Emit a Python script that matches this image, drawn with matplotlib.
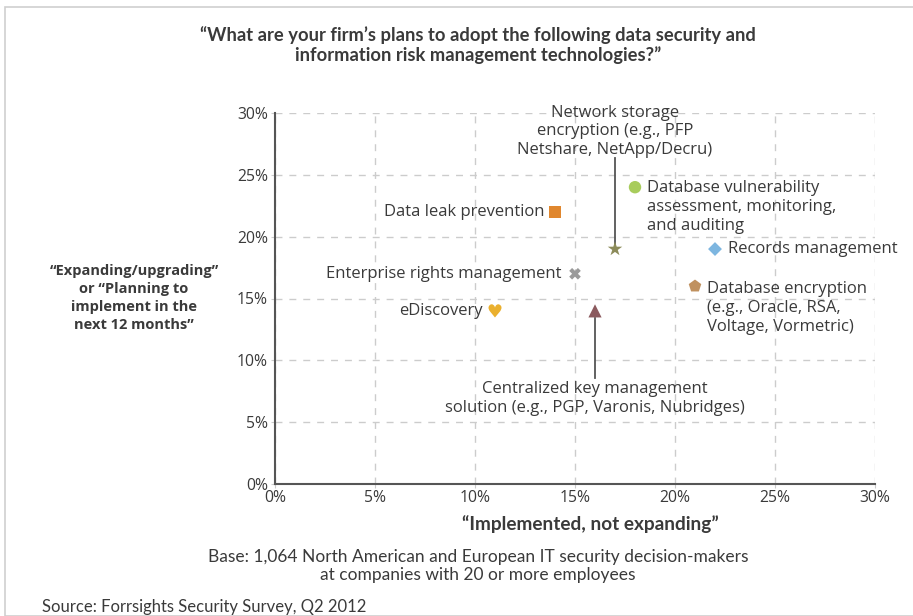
import matplotlib
matplotlib.use("Agg")
import matplotlib.pyplot as plt
from matplotlib.patches import Rectangle
from matplotlib.ticker import FuncFormatter

# data: (implemented %, planning %)
techs = ["Data leak prevention", "Database vulnerability", "Network storage",
         "Records management", "Enterprise rights management", "Database encryption",
         "eDiscovery", "Centralized key management"]
implemented = [14, 18, 17, 22, 15, 21, 11, 16]
planning = [22, 24, 19, 19, 17, 16, 14, 14]
markers = ["s", "o", "*", "D", "X", "p", "$\u2665$", "^"]
colors = ["#E0872E", "#A8CC5C", "#8C8B5A", "#7DB6E0", "#9A9A9A", "#C0915F", "#EAB02E", "#8B5A5E"]
sizes = [80, 80, 120, 50, 70, 90, 90, 90]

W, H = 913, 616
NARROW = "Lato"
BODY = "Open Sans"
txt = "#3a3a3a"

fig = plt.figure(figsize=(W / 100, H / 100), dpi=100)
fig.patches.append(Rectangle((5 / W, 0), 1, 1 - 7 / H, transform=fig.transFigure,
                             fill=False, edgecolor="#cfcfcf", lw=1.2))

ax = fig.add_axes([275 / W, 1 - 484 / H, 600 / W, 371 / H])
ax.set_xlim(0, 30)
ax.set_ylim(0, 30)
ax.set_xticks(range(0, 31, 5))
ax.set_yticks(range(0, 31, 5))
pct = FuncFormatter(lambda v, p: f"{int(v)}%")
ax.xaxis.set_major_formatter(pct)
ax.yaxis.set_major_formatter(pct)
for lab in ax.get_xticklabels() + ax.get_yticklabels():
    lab.set_fontfamily(BODY)
    lab.set_fontsize(11.3)
    lab.set_color(txt)
ax.tick_params(length=3, color="#cccccc", pad=2)
ax.tick_params(axis="x", pad=1)
ax.grid(True, color="#cccccc", linestyle=(0, (5, 5)), lw=1)
for s in ["top", "right"]:
    ax.spines[s].set_visible(False)
for s in ["left", "bottom"]:
    ax.spines[s].set_color("#555555")
    ax.spines[s].set_linewidth(1.5)
ax.set_axisbelow(True)

for x, y, m, c, sz in zip(implemented, planning, markers, colors, sizes):
    ax.scatter(x, y, marker=m, s=sz, color=c, edgecolors="none", zorder=3, clip_on=False)

# leader lines
ax.plot([17, 17], [19.4, 26.4], color="#555555", lw=1.3, zorder=2, clip_on=False)
ax.plot([16, 16], [13.4, 8.6], color="#555555", lw=1.3, zorder=2, clip_on=False)

fs = 12
ls = 1.24
kw = dict(fontfamily=BODY, fontsize=fs, color=txt, clip_on=False)
ax.text(13.5, 22, "Data leak prevention", ha="right", va="center", **kw)
ax.text(18.6, 24.6, "Database vulnerability\nassessment, monitoring,\nand auditing",
        ha="left", va="top", linespacing=ls, **kw)
ax.text(17, 30.68, "Network storage\nencryption (e.g., PFP\nNetshare, NetApp/Decru)",
        ha="center", va="top", multialignment="center", linespacing=ls, **kw)
ax.text(22.65, 19, "Records management", ha="left", va="center", **kw)
ax.text(14.35, 17, "Enterprise rights management", ha="right", va="center", **kw)
ax.text(21.6, 16.38, "Database encryption\n(e.g., Oracle, RSA,\nVoltage, Vormetric)",
        ha="left", va="top", linespacing=ls, **kw)
ax.text(10.4, 14, "eDiscovery", ha="right", va="center", **kw)
ax.text(16, 8.35, "Centralized key management\nsolution (e.g., PGP, Varonis, Nubridges)",
        ha="center", va="top", multialignment="center", linespacing=ls, **kw)

def fx(px):
    return px / W

def fy(py):
    return 1 - py / H

fig.text(fx(478), fy(45), "\u201cWhat are your firm\u2019s plans to adopt the following data security and\n"
         "information risk management technologies?\u201d", ha="center", va="center",
         fontfamily=NARROW, fontweight="bold", fontsize=13.2, color=txt, linespacing=1.1)
fig.text(fx(134), fy(298), "\u201cExpanding/upgrading\u201d\nor \u201cPlanning to\nimplement in the\nnext 12 months\u201d",
         ha="center", va="center", multialignment="center", fontfamily=BODY, fontweight="bold",
         fontsize=10.5, color=txt, linespacing=1.36)
fig.text(fx(590), fy(524), "\u201cImplemented, not expanding\u201d", ha="center", va="center",
         fontfamily=NARROW, fontweight="bold", fontsize=13.7, color=txt)
fig.text(fx(478), fy(566), "Base: 1,064 North American and European IT security decision-makers\n"
         "at companies with 20 or more employees", ha="center", va="center",
         fontfamily=NARROW, fontsize=12.5, color=txt, linespacing=1.15)
fig.text(fx(42), fy(607), "Source: Forrsights Security Survey, Q2 2012", ha="left", va="center",
         fontfamily=NARROW, fontsize=12, color=txt)

fig.savefig("out.png", dpi=100)
